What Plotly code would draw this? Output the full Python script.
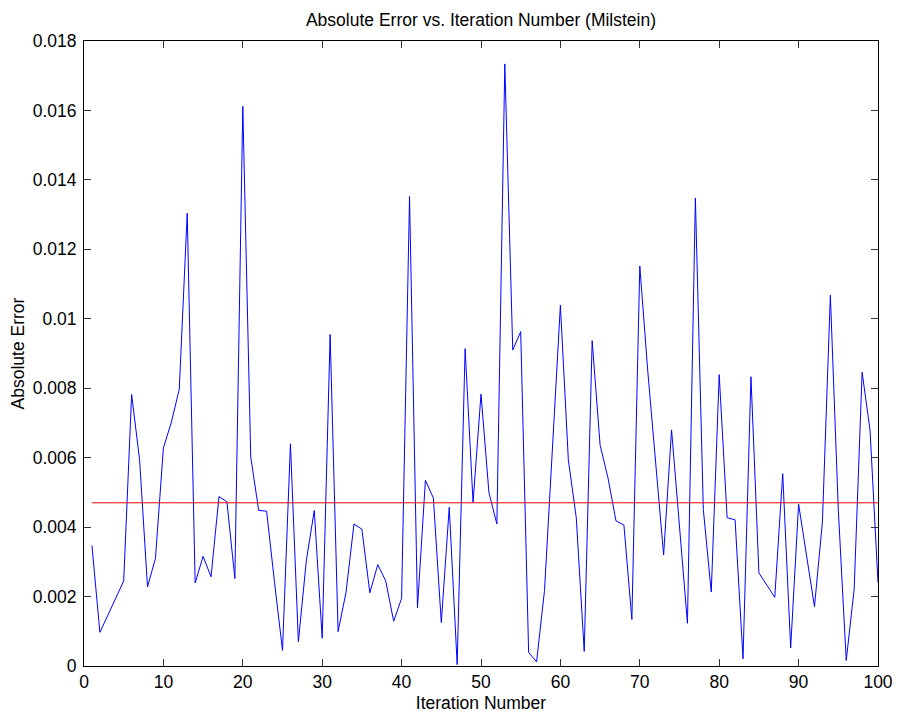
import plotly.graph_objects as go

iterations = list(range(1, 101))
abs_error = [
    0.00347, 0.00097, 0.00146, 0.00196, 0.00245, 0.00782, 0.00594, 0.00228, 0.00310, 0.00628,
    0.00702, 0.00797, 0.01304, 0.00239, 0.00316, 0.00257, 0.00488, 0.00473, 0.00252, 0.01612,
    0.00602, 0.00448, 0.00446, 0.00240, 0.00045, 0.00640, 0.00070, 0.00303, 0.00448, 0.00080,
    0.00955, 0.00099, 0.00212, 0.00409, 0.00394, 0.00211, 0.00292, 0.00245, 0.00129, 0.00195,
    0.01352, 0.00168, 0.00535, 0.00484, 0.00125, 0.00457, 0.00004, 0.00914, 0.00471, 0.00783,
    0.00499, 0.00409, 0.01734, 0.00910, 0.00963, 0.00039, 0.00012, 0.00218, 0.00620, 0.01039,
    0.00594, 0.00427, 0.00042, 0.00937, 0.00636, 0.00541, 0.00418, 0.00406, 0.00134, 0.01152,
    0.00850, 0.00580, 0.00320, 0.00680, 0.00400, 0.00123, 0.01348, 0.00451, 0.00213, 0.00839,
    0.00427, 0.00421, 0.00021, 0.00833, 0.00268, 0.00233, 0.00198, 0.00554, 0.00052, 0.00466,
    0.00320, 0.00171, 0.00415, 0.01068, 0.00450, 0.00016, 0.00222, 0.00846, 0.00679, 0.00240,
]
mean_error = 0.0047
mean_x = [1, 100]
mean_y = [mean_error, mean_error]

x_tickvals = [0, 10, 20, 30, 40, 50, 60, 70, 80, 90, 100]
x_ticktext = ["0", "10", "20", "30", "40", "50", "60", "70", "80", "90", "100"]
y_tickvals = [0, 0.002, 0.004, 0.006, 0.008, 0.010, 0.012, 0.014, 0.016, 0.018]
y_ticktext = ["0", "0.002", "0.004", "0.006", "0.008", "0.01", "0.012", "0.014", "0.016", "0.018"]

FONT = "Liberation Sans, Arial, Helvetica, sans-serif"
FS = 17.5

fig = go.Figure()
fig.add_trace(go.Scatter(x=iterations, y=abs_error, mode="lines",
                         line=dict(color="#0000ff", width=1), hoverinfo="x+y"))
fig.add_trace(go.Scatter(x=mean_x, y=mean_y, mode="lines",
                         line=dict(color="#ff0000", width=1)))

axis_common = dict(showline=True, linecolor="black", linewidth=1, mirror="ticks",
                   ticks="inside", ticklen=7, tickcolor="#333", tickwidth=1,
                   showgrid=False, zeroline=False, automargin=False,
                   tickfont=dict(family=FONT, size=FS, color="black"))

fig.update_layout(
    width=900, height=718,
    margin=dict(l=76, r=30, t=33, b=60),
    paper_bgcolor="white", plot_bgcolor="white",
    showlegend=False,
    font=dict(family=FONT, size=FS, color="black"),
    title=dict(text="Absolute Error vs. Iteration Number (Milstein)",
               font=dict(family=FONT, size=FS, color="black"),
               x=473 / 900, xanchor="center", xref="container",
               y=1 - 12 / 718, yanchor="middle", yref="container"),
    xaxis=dict(range=[0, 100], tickvals=x_tickvals, ticktext=x_ticktext,
               title=dict(text="Iteration Number", standoff=5,
                          font=dict(family=FONT, size=FS, color="black")),
               **axis_common),
    yaxis=dict(range=[0, 0.018], tickvals=y_tickvals, ticktext=y_ticktext,
               ticklabelstandoff=3,
               title=dict(text="Absolute Error", standoff=10,
                          font=dict(family=FONT, size=FS, color="black")),
               **axis_common),
)

fig.write_html("out.html")
